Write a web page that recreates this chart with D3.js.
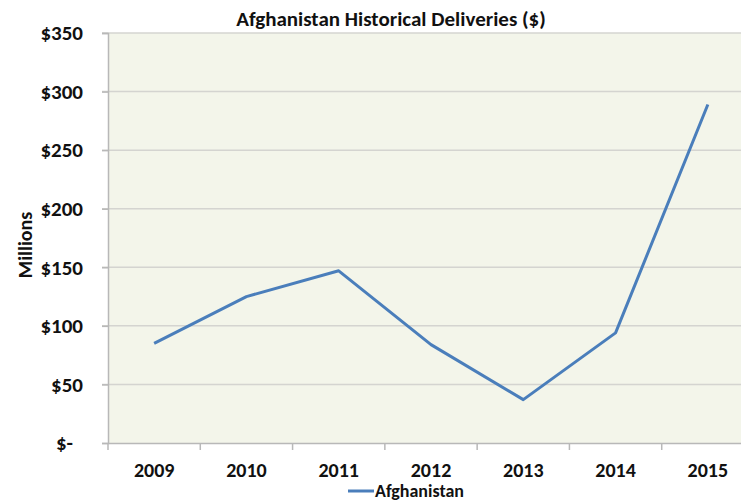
<!DOCTYPE html>
<html>
<head>
<meta charset="utf-8">
<script src="https://cdn.jsdelivr.net/npm/d3@7"></script>
<style>
  body { margin: 0; background: #fff; }
  text { font-family: Carlito, "Open Sans", "Liberation Sans", sans-serif; font-weight: bold; fill: #111; }
</style>
</head>
<body>
<div id="chart"></div>
<script>
var years = ["2009", "2010", "2011", "2012", "2013", "2014", "2015"];
var deliveries = [85, 125, 147, 84, 37, 94, 289];
var yTicks = [0, 50, 100, 150, 200, 250, 300, 350];

var width = 741,
    height = 501;

var margin = {top: 33, left: 108, bottom: 58};
var plotRight = 754;

var svg = d3.select("#chart")
    .append("svg")
    .attr("width", width)
    .attr("height", height);

var x = d3.scaleBand()
    .domain(years)
    .range([margin.left, plotRight]);

var y = d3.scaleLinear()
    .domain([0, 350])
    .range([height - margin.bottom, margin.top]);

// plot area
svg.append("rect")
    .attr("x", margin.left)
    .attr("y", margin.top)
    .attr("width", plotRight - margin.left)
    .attr("height", y(0) - margin.top)
    .style("fill", "#f3f5ea");

// gridlines
svg.selectAll(".grid")
    .data(yTicks.filter(function(d) { return d > 0; }))
    .enter().append("line")
    .attr("x1", margin.left - 6)
    .attr("x2", plotRight)
    .attr("y1", function(d) { return y(d); })
    .attr("y2", function(d) { return y(d); })
    .style("stroke", "#d4d4d0")
    .style("stroke-width", 1.5);

// y axis
var yAxis = d3.axisLeft(y)
    .tickValues(yTicks)
    .tickSize(6)
    .tickPadding(19)
    .tickFormat(function(d) { return d === 0 ? "$-" : "$" + d; });

var gy = svg.append("g")
    .attr("transform", "translate(" + margin.left + ",0)")
    .call(yAxis);
gy.select(".domain").style("stroke", "#b8b8b8").style("stroke-width", 1.5);
gy.selectAll(".tick line").style("stroke", "#b8b8b8").style("stroke-width", 1.5);
gy.selectAll(".tick text")
    .style("font-size", "21px")
    .attr("dx", function(d) { return d === 0 ? -10 : 0; });

// x axis
var xAxis = d3.axisBottom(x)
    .tickSize(0)
    .tickPadding(20);

var gx = svg.append("g")
    .attr("transform", "translate(0," + y(0) + ")")
    .call(xAxis);
gx.select(".domain").style("stroke", "#b8b8b8").style("stroke-width", 1.5);
gx.selectAll(".tick text").style("font-size", "20px").attr("dy", "0.68em");

// category separators
gx.selectAll(".sep")
    .data(years)
    .enter().append("line")
    .attr("x1", function(d) { return x(d); })
    .attr("x2", function(d) { return x(d); })
    .attr("y1", 0)
    .attr("y2", 7)
    .style("stroke", "#b8b8b8")
    .style("stroke-width", 1.5);

// line
var line = d3.line()
    .x(function(d, i) { return x(years[i]) + x.bandwidth() / 2; })
    .y(function(d) { return y(d); });

svg.append("path")
    .datum(deliveries)
    .attr("d", line)
    .style("fill", "none")
    .style("stroke", "#4a7ebb")
    .style("stroke-width", 3)
    .style("stroke-linejoin", "round");

// title
svg.append("text")
    .attr("x", 391)
    .attr("y", 26)
    .attr("text-anchor", "middle")
    .style("font-size", "21px")
    .text("Afghanistan Historical Deliveries ($)");

// y label
svg.append("text")
    .attr("transform", "translate(32,245) rotate(-90)")
    .attr("text-anchor", "middle")
    .style("font-size", "20px")
    .text("Millions");

// legend
svg.append("line")
    .attr("x1", 348)
    .attr("x2", 374)
    .attr("y1", 491)
    .attr("y2", 491)
    .style("stroke", "#4a7ebb")
    .style("stroke-width", 3);

svg.append("text")
    .attr("x", 375)
    .attr("y", 497)
    .style("font-size", "18px")
    .text("Afghanistan");
</script>
</body>
</html>
